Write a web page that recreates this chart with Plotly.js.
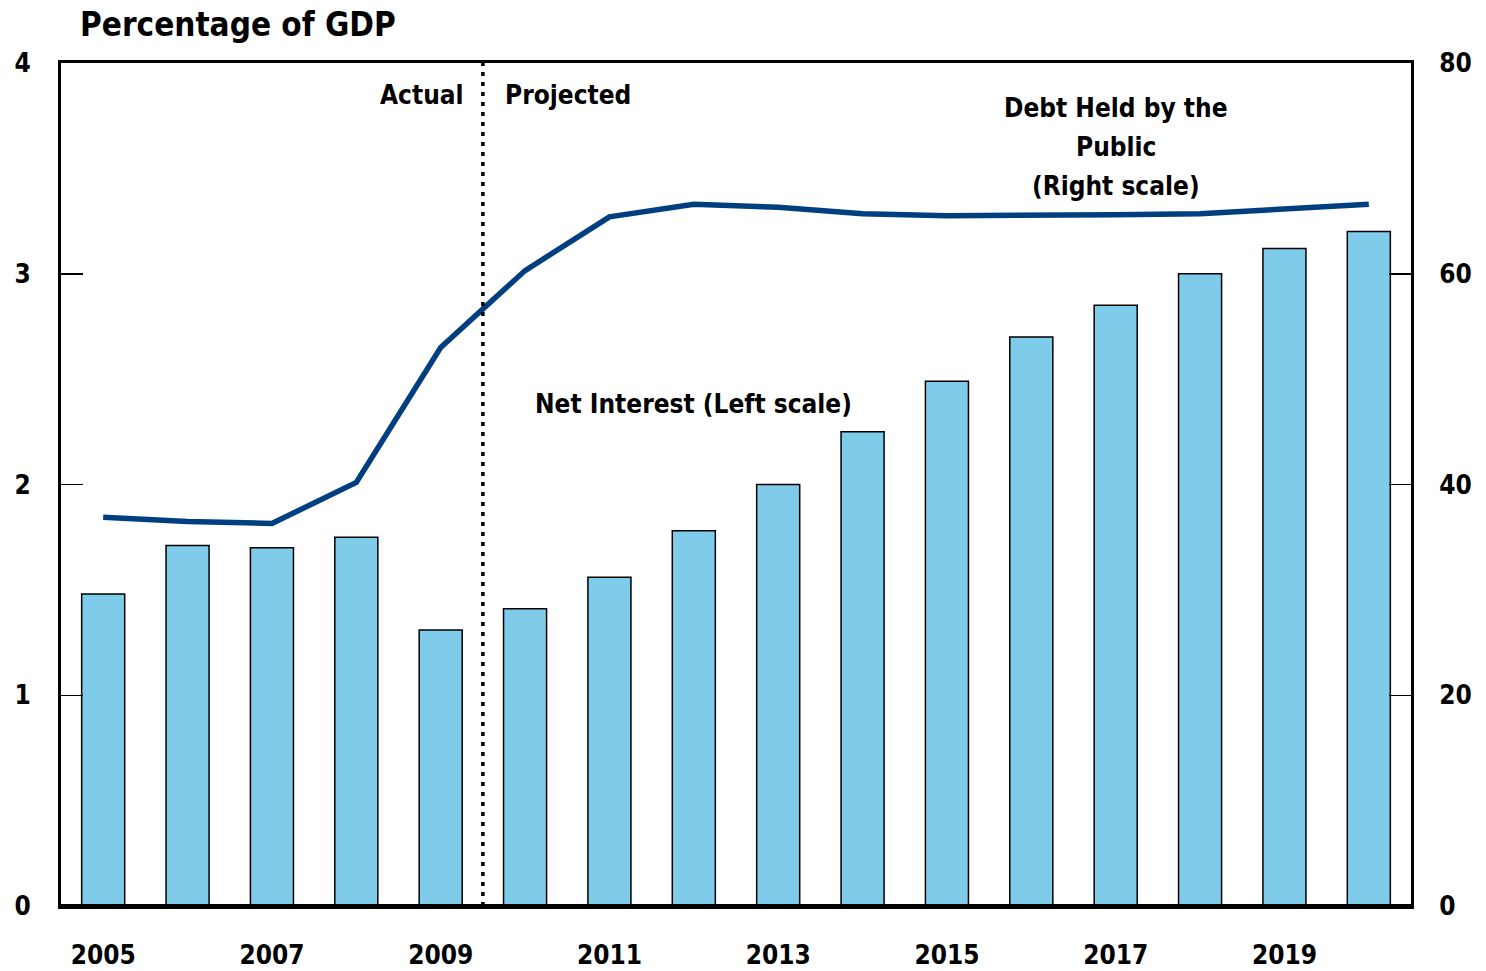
<!DOCTYPE html>
<html>
<head>
<meta charset="utf-8">
<script src="https://cdn.plot.ly/plotly-3.0.1.min.js"></script>
<style>html,body{margin:0;padding:0;background:#fff;}#chart{width:1486px;height:971px;}</style>
</head>
<body>
<div id="chart"></div>
<script>
const years = [2005,2006,2007,2008,2009,2010,2011,2012,2013,2014,2015,2016,2017,2018,2019,2020];
const netInterest = [1.48,1.71,1.70,1.75,1.31,1.41,1.56,1.78,2.00,2.25,2.49,2.70,2.85,3.00,3.12,3.20];
const debtHeld = [36.9,36.5,36.3,40.2,53.0,60.3,65.4,66.6,66.3,65.7,65.5,65.5,65.6,65.7,66.1,66.6];
const leftTicks = [0,1,2,3,4];
const rightTicks = [0,20,40,60,80];
const xTicks = [2005,2007,2009,2011,2013,2015,2017,2019];
const debtLabelLines = ['Debt Held by the','Public','(Right scale)'];

const FONT = '"DejaVu Sans Condensed", "Liberation Sans Narrow", sans-serif';
const fnt = {family: FONT, size: 26, color: '#000', weight: 'bold'};

const traces = [
  {type:'bar', x: years, y: netInterest, width: 0.51, yaxis:'y',
   marker:{color:'#7fcbea', line:{color:'#000', width:1.5}}, hoverinfo:'x+y'},
  {type:'scatter', mode:'lines', x: years, y: debtHeld, yaxis:'y2',
   line:{color:'#003f7f', width:5.5}}
];

const annotations = [
  {text:'Percentage of GDP', xref:'paper', yref:'paper', x:0.0126, y:1, yshift:39, xanchor:'left', yanchor:'middle', showarrow:false, font:{family:FONT, size:33, color:'#000', weight:'bold'}},
  {text:'Actual', xref:'x', yref:'y', x:2009.5, y:3.85, xshift:-17, xanchor:'right', yanchor:'middle', showarrow:false, font:fnt},
  {text:'Projected', xref:'x', yref:'y', x:2009.5, y:3.85, xshift:20, xanchor:'left', yanchor:'middle', showarrow:false, font:fnt},
  {text:'Net Interest (Left scale)', xref:'x', yref:'y', x:2012.0, y:2.38, xanchor:'center', yanchor:'middle', showarrow:false, font:fnt}
];
debtLabelLines.forEach((t, i) => {
  annotations.push({text:t, xref:'x', yref:'paper', x:2017, y:1, yshift:-45 - 39*i, xanchor:'center', yanchor:'middle', showarrow:false, font:fnt});
});

const layout = {
  width:1486, height:971,
  margin:{l:61, r:75, t:63, b:65},
  showlegend:false,
  plot_bgcolor:'#fff', paper_bgcolor:'#fff',
  font: fnt,
  xaxis:{range:[2004.5,2020.5], tickvals:xTicks, ticktext:xTicks.map(String), ticks:'',
    showgrid:false, zeroline:false, showline:true, linecolor:'#000', linewidth:3, mirror:true,
    tickfont:fnt, ticklabelstandoff:24},
  yaxis:{range:[0,4], tickvals:leftTicks, ticks:'inside', ticklen:22, tickwidth:1.5, tickcolor:'#000',
    showgrid:false, zeroline:false, showline:true, linecolor:'#000', linewidth:3,
    tickfont:fnt, ticklabelstandoff:22},
  yaxis2:{range:[0,80], tickvals:rightTicks, overlaying:'y', side:'right', ticks:'inside', ticklen:22, tickwidth:1.5, tickcolor:'#000',
    showgrid:false, zeroline:false, showline:true, linecolor:'#000', linewidth:3,
    tickfont:fnt, ticklabelstandoff:20},
  shapes:[
    {type:'line', xref:'x', yref:'paper', x0:2009.5, x1:2009.5, y0:0, y1:1,
     line:{color:'#000', width:3.5, dash:'4px,6px'}},
    {type:'line', xref:'paper', yref:'y', x0:0, x1:1, y0:0, y1:0, line:{color:'#000', width:4}}
  ],
  annotations: annotations
};
Plotly.newPlot('chart', traces, layout, {displayModeBar:false, staticPlot:true});
</script>
</body>
</html>
